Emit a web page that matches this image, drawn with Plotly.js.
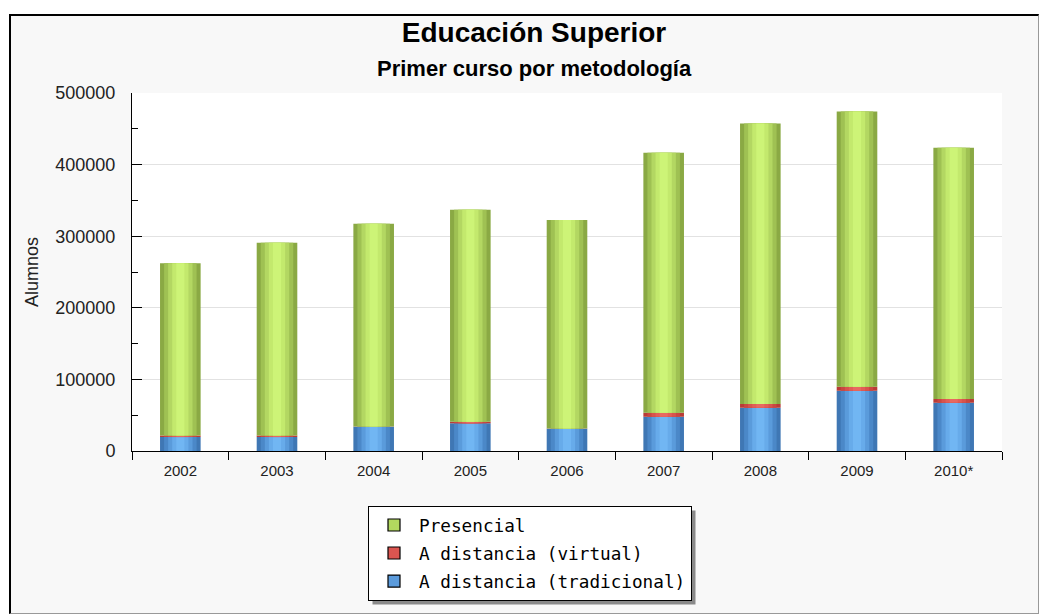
<!DOCTYPE html>
<html>
<head>
<meta charset="utf-8">
<script src="https://cdn.plot.ly/plotly-3.0.1.min.js"></script>
<style>
  html, body { margin: 0; padding: 0; background: #ffffff; width: 1039px; height: 614px; overflow: hidden; }
  #frame { position: absolute; left: 9px; top: 14px; width: 1027px; height: 597px;
           border-left: 2px solid #000; border-top: 2px solid #000;
           border-right: 1px solid #999; border-bottom: 1px solid #999; background: #f8f8f8; }
  #chart { position: absolute; left: 0; top: 0; width: 1027px; height: 597px; }
</style>
</head>
<body>
<div id="frame"><div id="chart"></div></div>
<script>
// ---- data ----
const categories = ['2002', '2003', '2004', '2005', '2006', '2007', '2008', '2009', '2010*'];
const tradicional = [19500, 19500, 34000, 38700, 31100, 47900, 60500, 84200, 67500];
const virtual = [2000, 2000, 300, 2200, 300, 5600, 5100, 5600, 5100];
const presencial = [240600, 269400, 283200, 296100, 291200, 363000, 391900, 384500, 350900];
const seriesNames = ['Presencial', 'A distancia (virtual)', 'A distancia (tradicional)'];
const yTickVals = [0, 100000, 200000, 300000, 400000, 500000];

// ---- styling ----
const BAR_W = 0.42;
const layerFrac = [1.0, 0.8, 0.6, 0.4, 0.2];
const shades = {
  pres: ['#8aa944', '#9fc153', '#b3d762', '#c3e96d', '#cdf477'],
  virt: ['#b93b36', '#c94741', '#d8534d', '#e15e57', '#e86961'],
  trad: ['#3f77b4', '#4b88c8', '#5a9bdb', '#67abea', '#71b6f3']
};
const legendColors = ['#b2d85f', '#dc5550', '#5b9bdc'];

const baseVirt = tradicional.map(v => v);
const basePres = tradicional.map((v, i) => v + virtual[i]);

const traces = [];
function addLayers(values, base, colors) {
  layerFrac.forEach((f, k) => {
    traces.push({
      type: 'bar', x: categories, y: values, base: base,
      width: BAR_W * f,
      marker: { color: colors[k], line: { width: 0 } },
      showlegend: false, hoverinfo: 'skip'
    });
  });
}
addLayers(tradicional, categories.map(() => 0), shades.trad);
addLayers(virtual, baseVirt, shades.virt);
addLayers(presencial, basePres, shades.pres);

// legend-only entries (no visible bars)
seriesNames.forEach((name, i) => {
  traces.push({
    type: 'bar', x: [categories[0]], y: [null], name: name, showlegend: true,
    legendgroup: 'g' + i,
    marker: { color: legendColors[i], line: { color: '#000', width: 1.2 } }
  });
});

// plot area in absolute page pixels: x 132..1002, y 93..451 ; div origin at (11,16)
const W = 1027, H = 597;
const L = 121, T = 77, R = W - (1002 - 11), B = H - (451 - 16);
const plotW = W - L - R, plotH = H - T - B;
const px = ax => (ax - 132) / plotW;      // absolute x -> paper
const py = ay => (451 - ay) / plotH;      // absolute y -> paper

const layout = {
  width: W, height: H,
  margin: { l: L, r: R, t: T, b: B },
  paper_bgcolor: '#f8f8f8', plot_bgcolor: '#ffffff',
  barmode: 'overlay',
  font: { family: 'Liberation Sans, Arial, sans-serif', color: '#222' },
  title: {
    text: '<b>Educación Superior</b>',
    font: { size: 28, color: '#000', family: 'Liberation Sans, Arial, sans-serif' },
    x: (534 - 11) / W, xref: 'container', xanchor: 'center',
    y: 1 - (32 - 16) / H, yref: 'container', yanchor: 'middle'
  },
  annotations: [{
    text: '<b>Primer curso por metodología</b>',
    xref: 'paper', yref: 'paper',
    x: px(534), y: py(68),
    xanchor: 'center', yanchor: 'middle', showarrow: false,
    font: { size: 22, color: '#000', family: 'Liberation Sans, Arial, sans-serif' }
  }],
  xaxis: {
    type: 'category', range: [-0.5, 8.5],
    showline: true, linecolor: '#000', linewidth: 1,
    ticks: 'outside', tickson: 'boundaries', ticklen: 8, tickcolor: '#000', tickwidth: 1,
    showgrid: false, zeroline: false,
    tickfont: { size: 15, color: '#222', family: 'Liberation Sans, Arial, sans-serif' },
    ticklabelstandoff: 6,
    fixedrange: true
  },
  yaxis: {
    range: [0, 500000], tickvals: yTickVals, ticktext: yTickVals.map(String),
    showline: true, linecolor: '#000', linewidth: 1,
    ticks: 'inside', ticklen: 10, tickcolor: '#000', tickwidth: 1,
    minor: { dtick: 50000, tick0: 0, ticks: 'inside', ticklen: 6, tickcolor: '#000', showgrid: false },
    showgrid: true, gridcolor: '#e2e2e2', gridwidth: 1, zeroline: false,
    tickfont: { size: 18, color: '#222', family: 'Liberation Sans, Arial, sans-serif' },
    ticklabelstandoff: 12,
    title: { text: 'Alumnos', font: { size: 18, color: '#222', family: 'Liberation Sans, Arial, sans-serif' }, standoff: 12 },
    fixedrange: true
  },
  legend: {
    x: px(368), y: py(506),
    xanchor: 'left', yanchor: 'top', orientation: 'v',
    bgcolor: '#ffffff', bordercolor: '#000', borderwidth: 1,
    font: { family: 'DejaVu Sans Mono, Liberation Mono, monospace', size: 17.7, color: '#000' },
    itemwidth: 40, traceorder: 'grouped', tracegroupgap: 2
  },
  bargap: 0.58
};

const gd = document.getElementById('chart');
Plotly.newPlot(gd, traces, layout, { displayModeBar: false, staticPlot: true }).then(() => {
  // drop shadow that follows the rendered legend box, offset 4px right/down
  const bg = gd.querySelector('.legend .bg');
  if (!bg) return;
  const r = bg.getBoundingClientRect();
  const c = gd.getBoundingClientRect();
  const sz = gd._fullLayout._size;
  const toPX = x => (x - c.left - sz.l) / sz.w;
  const toPY = y => 1 - (y - c.top - sz.t) / sz.h;
  return Plotly.relayout(gd, {
    shapes: [{
      type: 'rect', xref: 'paper', yref: 'paper', layer: 'above',
      x0: toPX(r.left + 4), x1: toPX(r.right + 4),
      y0: toPY(r.bottom + 4), y1: toPY(r.top + 4),
      fillcolor: '#8a8a8a', line: { width: 0 }
    }]
  });
});
</script>
</body>
</html>
